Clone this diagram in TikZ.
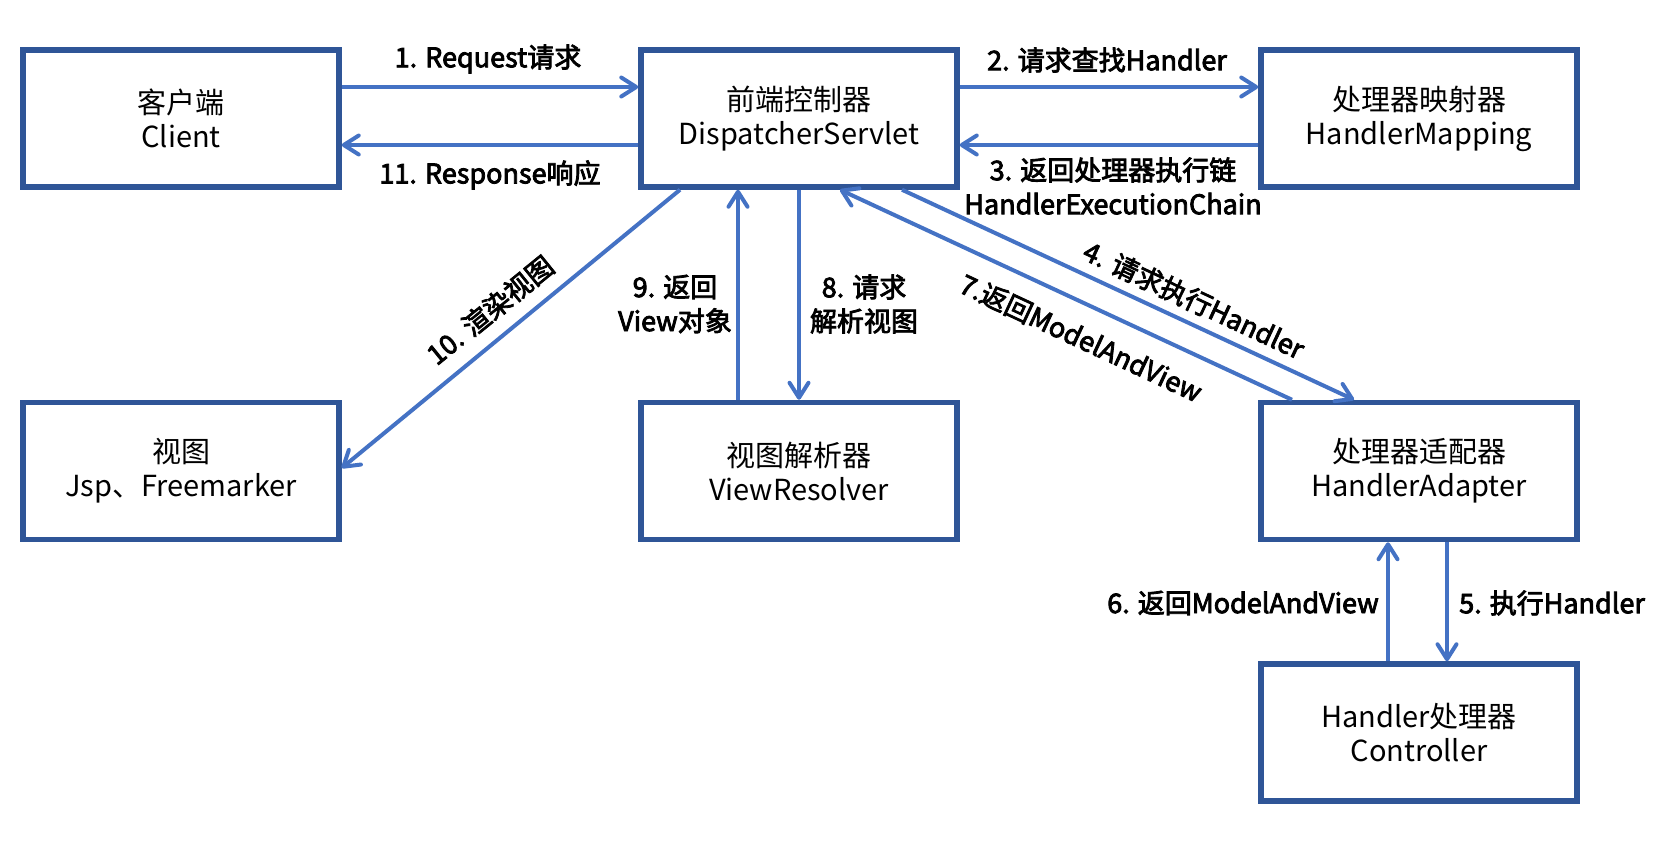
\documentclass[tikz,border=0pt]{standalone}
\usepackage{fontspec}
\setmainfont{Noto Sans CJK SC}
\newfontfamily\labelfont[FakeBold = 3]{Noto Sans CJK SC}
\usetikzlibrary{arrows.meta}
\definecolor{boxblue}{RGB}{47,85,151}
\definecolor{flowblue}{RGB}{68,114,196}
\tikzstyle{stageBox}=[draw = boxblue, line width = 5.5pt, minimum width = 316pt, minimum height = 137pt, inner sep = 0pt, align = center, font = \fontsize{29}{34}\selectfont]
\tikzstyle{flowArrow}=[draw = flowblue, line width = 4pt, -{Straight Barb[length = 15pt, width = 19pt, round]}]
\tikzstyle{flowLabel}=[inner sep = 0pt, align = center, font = \labelfont\fontsize{27}{34}\selectfont]

\begin{document}
\begin{tikzpicture}[x = 1pt, y = -1pt]
\useasboundingbox (0,0) rectangle (1669,841);
\node[stageBox] (client) at (181,118.5) {客户端\\Client};
\node[stageBox] (dispatcher) at (799,118.5) {前端控制器\\DispatcherServlet};
\node[stageBox] (mapping) at (1419,118.5) {处理器映射器\\HandlerMapping};
\node[stageBox] (view) at (181,471) {视图\\Jsp、Freemarker};
\node[stageBox] (resolver) at (799,471) {视图解析器\\ViewResolver};
\node[stageBox] (adapter) at (1419,471) {处理器适配器\\HandlerAdapter};
\node[stageBox] (handler) at (1419,732.5) {Handler处理器\\Controller};
\draw[flowArrow] ([yshift = 31.5pt]client.east) -- ([yshift = 31.5pt]dispatcher.west);
\draw[flowArrow] ([yshift = -26.5pt]dispatcher.west) -- ([yshift = -26.5pt]client.east);
\draw[flowArrow] ([yshift = 31.5pt]dispatcher.east) -- ([yshift = 31.5pt]mapping.west);
\draw[flowArrow] ([yshift = -26.5pt]mapping.west) -- ([yshift = -26.5pt]dispatcher.east);
\draw[flowArrow] ([xshift = -119pt]dispatcher.south) -- ([yshift = 3pt]view.east);
\draw[flowArrow] ([xshift = -61pt]resolver.north) -- ([xshift = -61pt]dispatcher.south);
\draw[flowArrow] (dispatcher.south) -- (resolver.north);
\draw[flowArrow] ([xshift = 103pt]dispatcher.south) -- ([xshift = -65pt]adapter.north);
\draw[flowArrow] ([xshift = -127pt]adapter.north) -- ([xshift = 41pt]dispatcher.south);
\draw[flowArrow] ([xshift = 28pt]adapter.south) -- ([xshift = 28pt]handler.north);
\draw[flowArrow] ([xshift = -31pt]handler.north) -- ([xshift = -31pt]adapter.south);
\node[flowLabel] (requestLabel) at (488,59) {1. Request请求};
\node[flowLabel] (responseLabel) at (490,175) {11. Response响应};
\node[flowLabel] (findLabel) at (1107,60) {2. 请求查找Handler};
\node[flowLabel] (chainLabel) at (1113,186) {3. 返回处理器执行链\\HandlerExecutionChain};
\node[flowLabel, rotate = 39] (renderLabel) at (490,310) {10. 渲染视图};
\node[flowLabel] (viewObjLabel) at (675,304) {9. 返回\\View对象};
\node[flowLabel] (resolveLabel) at (864,304) {8. 请求\\解析视图};
\node[flowLabel, rotate = -25] (executeLabel) at (1194,300) {4. 请求执行Handler};
\node[flowLabel, rotate = -25] (returnLabel) at (1081,338) {7.返回ModelAndView};
\node[flowLabel, anchor = east] (modelLabel) at (1379,603) {6. 返回ModelAndView};
\node[flowLabel, anchor = west] (runLabel) at (1459,603) {5. 执行Handler};
\end{tikzpicture}
\end{document}
